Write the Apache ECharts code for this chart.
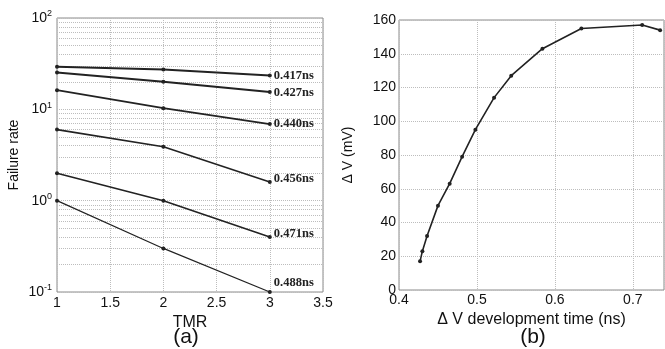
<!DOCTYPE html>
<html><head><meta charset="utf-8">
<script src="https://cdn.jsdelivr.net/npm/echarts@6/dist/echarts.min.js"></script>
<style>html,body{margin:0;padding:0;background:#fff}#c{width:665px;height:349px}</style>
</head><body><div id="c"></div>
<script>
// ---- data (a) ----
const tmr = [1, 2, 3];
const seriesNames = ['0.417ns', '0.427ns', '0.440ns', '0.456ns', '0.471ns', '0.488ns'];
const fr417 = [29.2, 27.3, 23.4];
const fr427 = [25.3, 20.0, 15.5];
const fr440 = [16.2, 10.3, 6.9];
const fr456 = [6.0, 3.9, 1.6];
const fr471 = [2.0, 1.0, 0.40];
const fr488 = [1.0, 0.30, 0.10];
const xTicksA = [1, 1.5, 2, 2.5, 3, 3.5];
// ---- data (b) ----
const devTime = [0.427, 0.430, 0.436, 0.450, 0.465, 0.481, 0.498, 0.522, 0.544, 0.584, 0.634, 0.712, 0.735];
const deltaV  = [17, 23, 32, 50, 63, 79, 95, 114, 127, 143, 155, 157, 154];

const failRates = [fr417, fr427, fr440, fr456, fr471, fr488];
const labelOffsets = [[0,0],[0,1],[0,0],[0,-3],[0,-3],[0,-9]];
const lineWidths = [2, 2, 1.8, 1.6, 1.6, 1.2];

const chart = echarts.init(document.getElementById('c'));
const txt = '#111';
const gridLine = {show: true, lineStyle: {color: '#bdbdbd', type: 'dotted', width: 1}};
const sans = 'Liberation Sans, Arial, sans-serif';

const seriesA = failRates.map((vals, i) => ({
  type: 'line', name: seriesNames[i], xAxisIndex: 0, yAxisIndex: 0,
  data: vals.map((v, j) => [tmr[j], v]),
  symbol: 'circle', symbolSize: 4,
  lineStyle: {color: '#222', width: lineWidths[i]},
  itemStyle: {color: '#222'},
  label: {show: false},
  endLabel: {show: true, formatter: seriesNames[i], color: '#222', fontFamily: 'Liberation Serif, serif',
    fontWeight: 'bold', fontSize: 12.5, distance: 4, offset: labelOffsets[i]},
  animation: false
}));

chart.setOption({
  animation: false,
  grid: [
    {left: 57, right: 342, top: 18, bottom: 57, show: true, borderColor: '#8a8a8a', borderWidth: 1},
    {left: 399, right: 1, top: 20, bottom: 59, show: true, borderColor: '#8a8a8a', borderWidth: 1}
  ],
  xAxis: [
    {type: 'value', gridIndex: 0, min: xTicksA[0], max: xTicksA[xTicksA.length-1], interval: 0.5,
     name: 'TMR', nameLocation: 'middle', nameGap: 15, nameTextStyle: {color: txt, fontSize: 16, fontFamily: sans},
     axisLine: {show: false}, axisTick: {show: false}, splitLine: gridLine,
     axisLabel: {color: txt, fontSize: 14, fontFamily: sans, margin: 4}},
    {type: 'value', gridIndex: 1, min: 0.4, max: 0.74, interval: 0.1,
     name: 'Δ V development time (ns)', nameLocation: 'middle', nameGap: 17,
     nameTextStyle: {color: txt, fontSize: 16, fontFamily: sans},
     axisLine: {show: false}, axisTick: {show: false}, splitLine: gridLine,
     axisLabel: {color: txt, fontSize: 14, fontFamily: sans, margin: 3, showMaxLabel: false,
       formatter: v => v.toFixed(1)}}
  ],
  yAxis: [
    {type: 'log', gridIndex: 0, logBase: 10, min: 0.1, max: 100, interval: 1,
     name: 'Failure rate', nameLocation: 'middle', nameGap: 36,
     nameTextStyle: {color: txt, fontSize: 14, fontFamily: sans},
     axisLine: {show: false}, axisTick: {show: false}, splitLine: gridLine,
     minorTick: {show: false, splitNumber: 9}, minorSplitLine: gridLine,
     axisLabel: {color: txt, fontFamily: sans, margin: 5,
       formatter: v => '{b|10}{s|' + Math.round(Math.log10(v)) + '}',
       rich: {b: {fontSize: 14, color: txt, fontFamily: sans},
              s: {fontSize: 9, color: txt, fontFamily: sans, verticalAlign: 'top', padding: [0, 0, 8, 0]}}}},
    {type: 'value', gridIndex: 1, min: 0, max: 160, interval: 20,
     name: 'Δ V (mV)', nameLocation: 'middle', nameGap: 44,
     nameTextStyle: {color: txt, fontSize: 14, fontFamily: sans},
     axisLine: {show: false}, axisTick: {show: false}, splitLine: gridLine,
     axisLabel: {color: txt, fontSize: 14, fontFamily: sans, margin: 3}}
  ],
  graphic: [
    {type: 'text', x: 186, y: 337, style: {text: '(a)', font: '21px Liberation Sans, Arial, sans-serif', fill: txt, align: 'center', verticalAlign: 'middle'}},
    {type: 'text', x: 533, y: 337, style: {text: '(b)', font: '21px Liberation Sans, Arial, sans-serif', fill: txt, align: 'center', verticalAlign: 'middle'}}
  ],
  series: seriesA.concat([{
    type: 'line', xAxisIndex: 1, yAxisIndex: 1,
    data: devTime.map((t, i) => [t, deltaV[i]]),
    symbol: 'circle', symbolSize: 4,
    lineStyle: {color: '#222', width: 1.6}, itemStyle: {color: '#222'},
    animation: false
  }])
});
</script></body></html>
